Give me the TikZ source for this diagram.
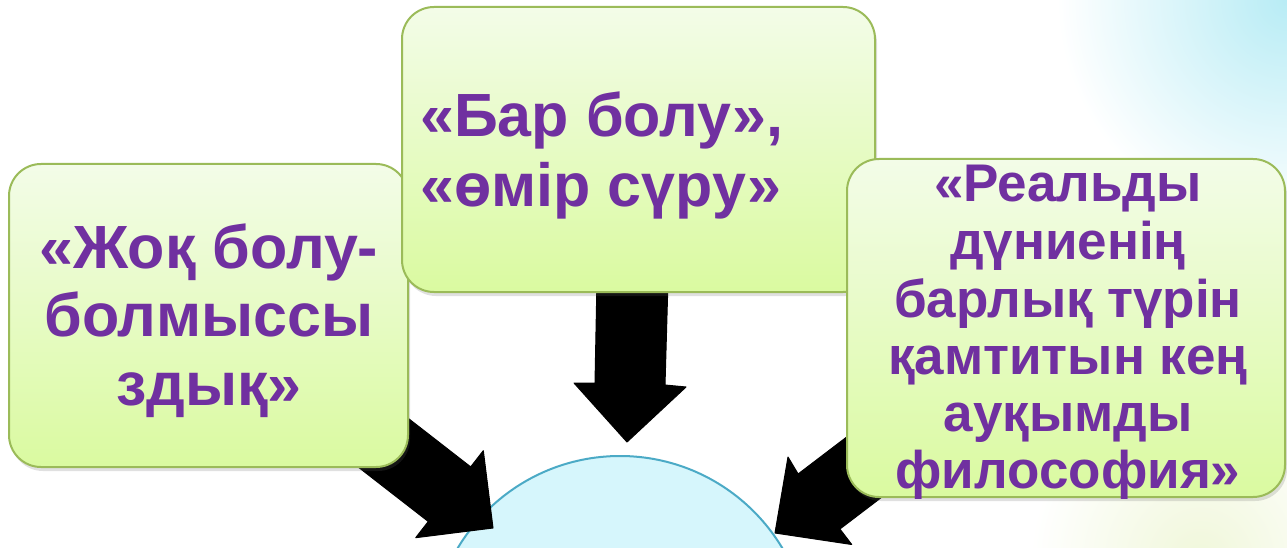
\documentclass[tikz,border=0pt]{standalone}
\usepackage{fontspec}
\setmainfont{Liberation Sans}
\usetikzlibrary{shadows}
\definecolor{txtpurple}{RGB}{112,48,160}
\definecolor{boxtop}{RGB}{243,252,232}
\definecolor{boxbot}{RGB}{218,250,160}
\definecolor{boxline}{RGB}{155,187,89}
\definecolor{circfill}{RGB}{214,246,252}
\definecolor{circline}{RGB}{75,170,198}
\definecolor{bgcyan}{RGB}{184,236,245}
\definecolor{bgyellow}{RGB}{240,247,218}
\begin{document}
\begin{tikzpicture}[x=1pt,y=-1pt,
  greenbox/.style={rectangle, rounded corners=32pt, draw=boxline, line width=2pt,
    top color=boxtop, bottom color=boxbot, inner sep=0pt,
    drop shadow={shadow xshift=2pt, shadow yshift=-4pt, opacity=0.2, fill=black!60}},
  bigtxt/.style={text=txtpurple, font=\bfseries\fontsize{61}{68}\selectfont, inner sep=0pt, anchor=base},
  smalltxt/.style={text=txtpurple, font=\bfseries\fontsize{53}{57}\selectfont, inner sep=0pt, anchor=base},
  blockarrow/.style={fill=black, draw=black, line width=1pt, line join=round}]
\useasboundingbox (0,0) rectangle (1287,548);
\clip (0,0) rectangle (1287,548);
% background
\fill[white] (0,0) rectangle (1287,548);
\shade[inner color=bgcyan, outer color=white] (1287,0) circle (230);
\shade[inner color=bgyellow, outer color=white] (1200,560) circle (170);
% centre circle
\node[circle, draw=circline, fill=circfill, line width=2pt, minimum size=378pt, inner sep=0pt] (core) at (620,645) {};
% arrows
\coordinate (toptip) at (627,442);
\coordinate (lefttip) at (493,528);
\coordinate (righttip) at (775,533);
\fill[blockarrow] (597,280) -- (668,280) -- (665,385) -- (686,387) -- (toptip) -- (574,383) -- (595,383) -- cycle;
\fill[blockarrow] (312.7,344.1) -- (470.7,466.9) -- (483.3,450.7) -- (lefttip) -- (415.7,537.7) -- (428.3,521.5) -- (270.3,398.7) -- cycle;
\fill[blockarrow] (957.3,352.8) -- (798.1,474.0) -- (788,457) -- (righttip) -- (851.7,544.5) -- (839.9,529) -- (999.1,407.8) -- cycle;
% boxes
\node[greenbox, minimum width=399pt, minimum height=303pt] (leftbox) at (208.5,315.5) {};
\node[greenbox, minimum width=473pt, minimum height=285pt] (topbox) at (638.5,149.5) {};
\node[greenbox, minimum width=438pt, minimum height=338pt] (rightbox) at (1066,328) {};
% texts
\node[bigtxt] (l1) at (209,268) {«Жоқ болу-};
\node[bigtxt] (l2) at (209,336.5) {болмыссы};
\node[bigtxt] (l3) at (209,405) {здық»};
\node[bigtxt, anchor=base west] (t1) at (420,137) {«Бар болу»,};
\node[bigtxt, anchor=base west] (t2) at (420,207) {«өмір сүру»};
\node[smalltxt] (r1) at (1068,202) {«Реальды};
\node[smalltxt] (r2) at (1068,259.5) {дүниенің};
\node[smalltxt] (r3) at (1068,317) {барлық түрін};
\node[smalltxt] (r4) at (1068,374) {қамтитын кең};
\node[smalltxt] (r5) at (1068,431) {ауқымды};
\node[smalltxt] (r6) at (1068,488) {философия»};
\end{tikzpicture}
\end{document}
